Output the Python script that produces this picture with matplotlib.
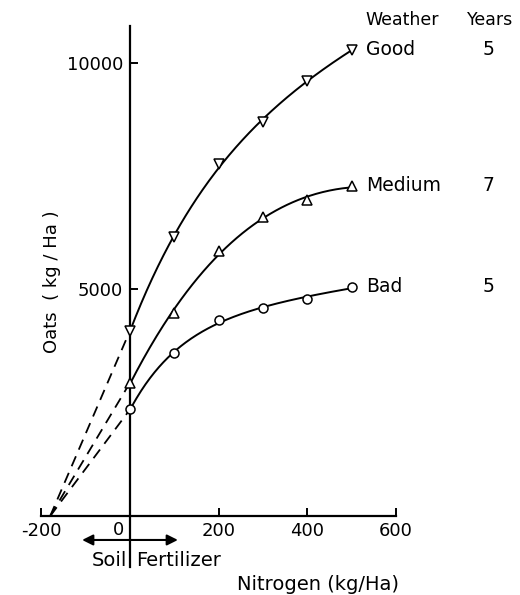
import numpy as np
import matplotlib
matplotlib.use("Agg")
import matplotlib.pyplot as plt
from matplotlib.transforms import offset_copy

nitrogen = [0, 100, 200, 300, 400, 500]
good = [4090, 6150, 7760, 8700, 9600, 10280]
medium = [2940, 4480, 5850, 6590, 6970, 7280]
bad = [2350, 3585, 4325, 4595, 4780, 5060]
weather = ["Good", "Medium", "Bad"]
years = ["5", "7", "5"]
markers = ["v", "^", "o"]
soil_intercept = -180
xticks = [-200, 0, 200, 400, 600]
yticks = [5000, 10000]

fig = plt.figure(figsize=(5.2, 5.95), dpi=100)
ax = fig.add_axes([0, 0, 1, 1])
ax.set_xlim(-293.3, 879.8)
ax.set_ylim(-1743, 11383)

for s in ["top", "right"]:
    ax.spines[s].set_visible(False)
ax.spines["left"].set_position(("data", 0))
ax.spines["bottom"].set_position(("data", 0))
ax.spines["left"].set_bounds(-1125, 10800)
ax.spines["bottom"].set_bounds(-200, 600)
for s in ["left", "bottom"]:
    ax.spines[s].set_linewidth(1.6)

ax.set_xticks(xticks)
ax.set_xticklabels(["" if t == 0 else str(t) for t in xticks])
ax.set_yticks(yticks)
ax.set_yticklabels([str(t) for t in yticks])
ax.tick_params(axis="both", direction="in", length=6, width=1.4, labelsize=13, pad=4)
ax.tick_params(axis="y", pad=5)
ax.xaxis.get_major_ticks()[1].tick1line.set_visible(False)
ax.text(0, 0, "0", fontsize=13, ha="center", va="top",
        transform=offset_copy(ax.transData, fig=fig, x=-12, y=-5, units="dots"))


def fit_curve(x, y):
    # smooth fit: y = a + b*x + c*(1 - exp(-x/k))
    best = None
    for k in np.linspace(20, 1500, 600):
        M = np.column_stack([np.ones_like(x), x, 1 - np.exp(-x / k)])
        sol, *_ = np.linalg.lstsq(M, y, rcond=None)
        err = np.sum((M @ sol - y) ** 2)
        if best is None or err < best[0]:
            best = (err, sol, k)
    _, (a, b, c), k = best
    return lambda t: a + b * t + c * (1 - np.exp(-t / k))


series = [good, medium, bad]
xs = np.array(nitrogen, dtype=float)
xx = np.linspace(0, 500, 200)
for vals, m, name, yr in zip(series, markers, weather, years):
    f = fit_curve(xs, np.array(vals, dtype=float))
    ax.plot(xx, f(xx), color="black", lw=1.4, zorder=2)
    ax.plot(xs, vals, linestyle="none", marker=m, ms=6.5, mfc="white",
            mec="black", mew=1.1, zorder=3)
    ax.plot([soil_intercept, 0], [0, vals[0]], color="black", lw=1.3,
            linestyle=(0, (6, 4)), zorder=1)
    ax.text(532, vals[-1], name, fontsize=13.5, ha="left", va="center")
    ax.text(808, vals[-1], yr, fontsize=13.5, ha="center", va="center")

ax.text(613, 10940, "Weather", fontsize=12.5, ha="center", va="center")
ax.text(812, 10940, "Years", fontsize=12.5, ha="center", va="center")

ax.text(-176, 5160, "Oats  ( kg / Ha )", fontsize=13, rotation=90,
        ha="center", va="center")
ax.text(424, -1522, "Nitrogen (kg/Ha)", fontsize=14, ha="center", va="center")

ax.annotate("", xy=(-108, -529), xytext=(0, -529),
            arrowprops=dict(arrowstyle="-|>", color="black", lw=1.5,
                            mutation_scale=16, shrinkA=0, shrinkB=0))
ax.annotate("", xy=(108, -529), xytext=(0, -529),
            arrowprops=dict(arrowstyle="-|>", color="black", lw=1.5,
                            mutation_scale=16, shrinkA=0, shrinkB=0))
ax.text(-7, -975, "Soil", fontsize=14, ha="right", va="center")
ax.text(14, -975, "Fertilizer", fontsize=14, ha="left", va="center")

fig.savefig("out.png", dpi=100, facecolor="white")
